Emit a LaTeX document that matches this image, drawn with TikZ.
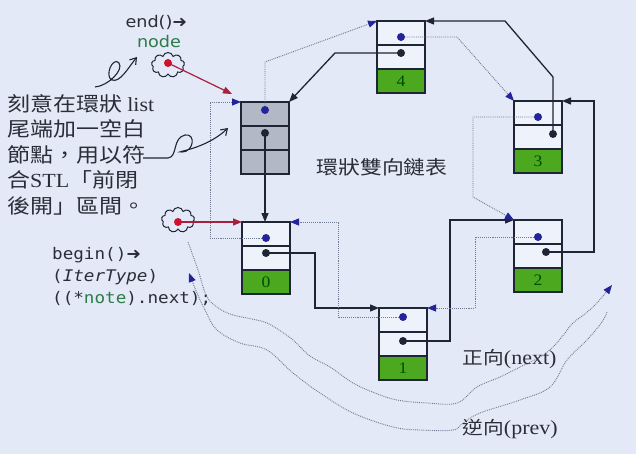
\documentclass[tikz,border=0pt]{standalone}
\usepackage{fontspec}
\setmainfont[FakeStretch=1.1]{Liberation Serif}
\newfontfamily\cjkfont[FakeStretch=1.15]{Noto Sans CJK TC}
\newfontfamily\codefont[FakeStretch=1.1]{DejaVu Sans Mono}
\newfontfamily\labelfont[FakeStretch=1.1]{DejaVu Sans}
\usepackage{tikz}
\usetikzlibrary{positioning,calc,arrows.meta,shapes.symbols}

\definecolor{bgblue}{HTML}{E3E9F6}
\definecolor{cellwhite}{HTML}{EEF2FA}
\definecolor{emptygray}{HTML}{B3B8C6}
\definecolor{datagreen}{HTML}{4CA81E}
\definecolor{linedark}{HTML}{1E2636}
\definecolor{dotline}{HTML}{707A92}
\definecolor{tipblue}{HTML}{24249A}
\definecolor{redline}{HTML}{A8203E}
\definecolor{reddot}{HTML}{D0102E}
\definecolor{codegreen}{HTML}{2E7A48}
\definecolor{textdark}{HTML}{2A2E38}

\tikzset{CELL/.style={rectangle,draw=linedark,line width=1.3pt,fill=cellwhite,minimum width=48pt,minimum height=24pt,inner sep=0pt,outer sep=0pt,anchor=north west}}
\tikzset{EMPTY/.style={CELL,fill=emptygray}}
\tikzset{DATA/.style={CELL,fill=datagreen,text=black!70!green,font=\fontsize{16}{16}\selectfont}}
\tikzset{NEXT/.style={line width=1.3pt,linedark,-{Triangle[length=9pt,width=7pt]}}}
\tikzset{PREV/.style={line width=0.9pt,dotline,densely dotted,-{Triangle[length=9pt,width=7pt,color=tipblue]}}}
\tikzset{REDLINK/.style={line width=1.2pt,redline,-{Triangle[length=9pt,width=7pt]}}}
\tikzset{CLOUD/.style={cloud,cloud puffs=9,aspect=1.3,draw=linedark,line width=1pt,minimum width=33pt,minimum height=25pt,inner sep=0pt}}
\tikzset{SQUIGGLE/.style={line width=1.1pt,linedark,-{Straight Barb[length=6pt,width=8pt]}}}
\tikzset{WAVE/.style={line width=0.9pt,dotline,densely dotted,-{Triangle[length=9pt,width=7pt,color=tipblue]}}}

\begin{document}
\begin{tikzpicture}[x=1pt,y=-1pt]

\useasboundingbox (0,0) rectangle (636,454);
\fill[bgblue] (0,0) rectangle (636,454);

% the empty node
\node[EMPTY] (n_e_prev) at (241,102) {};
\node[EMPTY, below=0pt of n_e_prev] (n_e_next) {};
\node[EMPTY, below=0pt of n_e_next] (n_e_data) {};

\node[CELL] (n_0_prev) at (242,222) {};
\node[CELL, below=0pt of n_0_prev] (n_0_next) {};
\node[DATA, below=0pt of n_0_next] (n_0_data) {0};

\node[CELL] (n_1_prev) at (379,308) {};
\node[CELL, below=0pt of n_1_prev] (n_1_next) {};
\node[DATA, below=0pt of n_1_next] (n_1_data) {1};

\node[CELL] (n_2_prev) at (514,220) {};
\node[CELL, below=0pt of n_2_prev] (n_2_next) {};
\node[DATA, below=0pt of n_2_next] (n_2_data) {2};

\node[CELL] (n_3_prev) at (514,101) {};
\node[CELL, below=0pt of n_3_prev] (n_3_next) {};
\node[DATA, below=0pt of n_3_next] (n_3_data) {3};

\node[CELL] (n_4_prev) at (377,21) {};
\node[CELL, below=0pt of n_4_prev] (n_4_next) {};
\node[DATA, below=0pt of n_4_next] (n_4_data) {4};

% pointer dots
\coordinate (c_e_pdot) at ($(n_e_prev.center)+(0,-4)$);
\coordinate (c_e_ndot) at ($(n_e_next.center)+(0,-5)$);
\coordinate (c_0_pdot) at ($(n_0_prev.center)+(0,4)$);
\coordinate (c_0_ndot) at ($(n_0_next.center)+(0,-5)$);
\coordinate (c_1_pdot) at ($(n_1_prev.center)+(0,-3)$);
\coordinate (c_1_ndot) at ($(n_1_next.center)+(0,-3)$);
\coordinate (c_2_pdot) at ($(n_2_prev.center)+(0,5)$);
\coordinate (c_2_ndot) at ($(n_2_next.center)+(8,-4)$);
\coordinate (c_3_pdot) at ($(n_3_prev.center)+(0,4)$);
\coordinate (c_3_ndot) at ($(n_3_next.center)+(15,-3)$);
\coordinate (c_4_pdot) at ($(n_4_prev.center)+(0,4)$);
\coordinate (c_4_ndot) at ($(n_4_next.center)+(0,-4)$);

% next links
\draw[NEXT] (c_e_ndot) -- (c_e_ndot |- n_0_prev.north);
\coordinate (c_01) at ($(n_0_next.east)+(25,0)$);
\draw[NEXT] (c_0_ndot) -- (c_0_ndot -| c_01) |- (n_1_prev.north west);
\coordinate (c_12) at ($(n_1_next.east)+(23,0)$);
\draw[NEXT] (c_1_ndot) -- (c_1_ndot -| c_12) |- (n_2_prev.north west);
\coordinate (c_23) at ($(n_2_next.east)+(32,0)$);
\draw[NEXT] (c_2_ndot) -- (c_2_ndot -| c_23) |- (n_3_prev.north east);
\coordinate (c_34) at ($(n_3_prev.north)+(15,-24)$);
\coordinate (c_34b) at ($(n_4_prev.north east)+(80,0)$);
\draw[NEXT] (c_3_ndot) -- (c_3_ndot |- c_34) -- (c_34b) -- (n_4_prev.north east);
\coordinate (c_40) at ($(n_4_prev.west)+(-42,0)$);
\draw[NEXT] (c_4_ndot) -- (c_4_ndot -| c_40) -- (n_e_prev.north east);

% prev links
\coordinate (c_e4) at ($(n_e_prev.north)+(0,-40)$);
\draw[PREV] (c_e_pdot) -- (c_e4) -- (n_4_prev.north west);
\coordinate (c_43) at ($(n_4_prev.east)+(32,0)$);
\draw[PREV] (c_4_pdot) -- (c_4_pdot -| c_43) -- (n_3_prev.north west);
\coordinate (c_32) at ($(n_2_prev.north west)+(-41,-23)$);
\draw[PREV] (c_3_pdot) -- (c_3_pdot -| c_32) -- (c_32) -- (n_2_prev.north west);
\coordinate (c_21) at ($(n_2_prev.west)+(-39,0)$);
\draw[PREV] (c_2_pdot) -- (c_2_pdot -| c_21) |- (n_1_prev.north east);
\coordinate (c_10) at ($(n_1_prev.west)+(-41,0)$);
\draw[PREV] (c_1_pdot) -- (c_1_pdot -| c_10) |- (n_0_prev.north east);
\coordinate (c_0e) at ($(n_0_prev.west)+(-32,0)$);
\draw[PREV] (c_0_pdot) -- (c_0_pdot -| c_0e) |- (n_e_prev.north west);

\fill[tipblue] (c_e_pdot) circle (4pt);
\fill[linedark] (c_e_ndot) circle (4pt);
\fill[tipblue] (c_0_pdot) circle (4pt);
\fill[linedark] (c_0_ndot) circle (4pt);
\fill[tipblue] (c_1_pdot) circle (4pt);
\fill[linedark] (c_1_ndot) circle (4pt);
\fill[tipblue] (c_2_pdot) circle (4pt);
\fill[linedark] (c_2_ndot) circle (4pt);
\fill[tipblue] (c_3_pdot) circle (4pt);
\fill[linedark] (c_3_ndot) circle (4pt);
\fill[tipblue] (c_4_pdot) circle (4pt);
\fill[linedark] (c_4_ndot) circle (4pt);

% end() and begin() pointers
\node[CLOUD] (n_cloud_end) at (168,65) {};
\node[CLOUD] (n_cloud_begin) at (178,220) {};
\coordinate (c_end_dot) at ($(n_cloud_end.center)+(0,-2)$);
\coordinate (c_begin_dot) at ($(n_cloud_begin.center)+(0,2)$);
\coordinate (c_end_tip) at ($(n_e_prev.north west)+(-9,-8)$);
\draw[REDLINK] (c_end_dot) -- (c_end_tip);
\draw[REDLINK] (c_begin_dot) -- (n_0_prev.north west);
\fill[reddot] (c_end_dot) circle (4pt);
\fill[reddot] (c_begin_dot) circle (4pt);

\node[anchor=west, text=textdark, font=\labelfont\fontsize{16}{16}\selectfont] (t_end) at (122,22) {end()➜};
\node[text=codegreen, font=\labelfont\fontsize{16}{16}\selectfont] (t_node) at (159,42) {node};

\node[anchor=north west, align=left, inner sep=0pt, text=textdark, font=\cjkfont\fontsize{20}{25.5}\selectfont] (t_note) at (7,94) {刻意在環狀 {\rmfamily list}\\尾端加一空白\\節點，用以符\\合{\rmfamily STL}「前閉\\後開」區間。};

\node[anchor=north west, align=left, inner sep=0pt, text=textdark, font=\codefont\fontsize{16}{22}\selectfont] (t_begin) at (52,247) {begin(){\labelfont ➜}\\({\itshape IterType})\\((*{\color{codegreen}note}).next);};

\node[text=textdark, font=\cjkfont\fontsize{19}{19}\selectfont] (t_title) at (382,167) {環狀雙向鏈表};

% doodles
\coordinate (c_note_out) at (143,158);
\draw[SQUIGGLE] (95,87) .. controls (108,86) and (124,70) .. (119,63) .. controls (113,56) and (104,76) .. (112,80) .. controls (120,83) and (128,68) .. (137,57);
\draw[SQUIGGLE] (c_note_out) -- (168,158) .. controls (178,157) and (172,138) .. (185,135) .. controls (196,133) and (194,152) .. (182,152) .. controls (172,152) and (205,150) .. (228,128);

% directions
\draw[WAVE] plot[smooth, tension=0.6] coordinates {(188,242) (198,270) (207,297) (220,309) (233,315) (252,319) (267,323) (282,332) (293,340) (310,356) (330,367) (353,383) (375,393) (397,400) (427,403) (457,403) (477,387) (500,377) (520,367) (540,357) (553,347) (565,333) (573,323) (593,307) (612,285)};
\draw[WAVE] plot[smooth, tension=0.6] coordinates {(607,312) (602,322) (587,340) (567,360) (550,387) (520,400) (480,413) (463,423) (453,430) (420,430) (393,427) (353,413) (320,393) (293,373) (267,350) (240,343) (217,330) (205,310) (197,293) (189,273)};

\node[anchor=west, text=textdark, font=\cjkfont\fontsize{18}{18}\selectfont] (t_next) at (459,359) {正向{\rmfamily\fontsize{20}{20}\selectfont (next)}};
\node[anchor=west, text=textdark, font=\cjkfont\fontsize{18}{18}\selectfont] (t_prev) at (459,429) {逆向{\rmfamily\fontsize{20}{20}\selectfont (prev)}};

\end{tikzpicture}
\end{document}
